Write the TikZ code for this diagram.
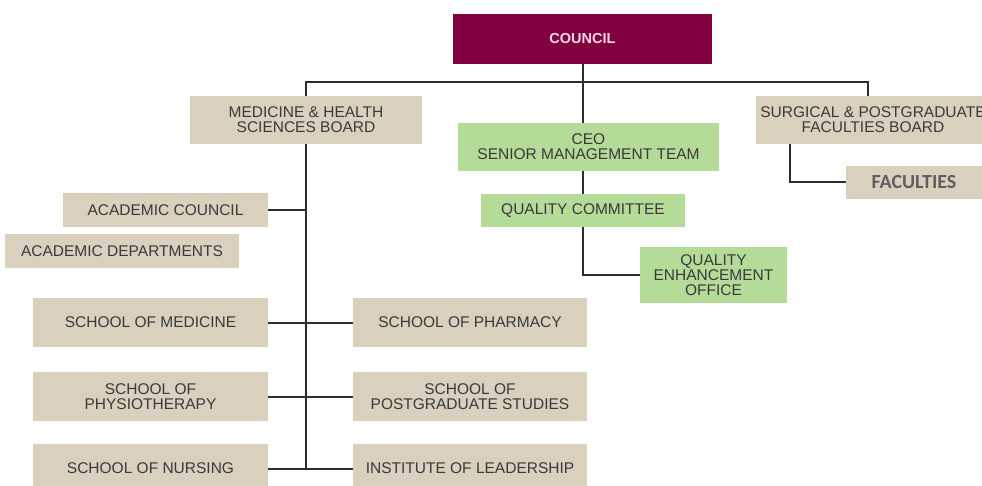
\documentclass[tikz,border=0pt]{standalone}
\usepackage{fontspec}
\setmainfont{Liberation Sans}
\newfontfamily\calib{Carlito}
\definecolor{beigec}{RGB}{217,209,189}
\definecolor{greenc}{RGB}{181,219,153}
\definecolor{maroonc}{RGB}{128,0,64}
\definecolor{txtc}{RGB}{58,58,58}
\definecolor{linec}{RGB}{45,45,45}
\definecolor{pinkc}{RGB}{245,215,228}
\definecolor{factxt}{RGB}{95,95,95}
\begin{document}
\begin{tikzpicture}[x=1pt,y=-1pt]
\tikzset{
  box/.style={inner sep=0pt, align=center, text=txtc, font=\fontsize{15.5}{15}\selectfont},
  bbox/.style={box, fill=beigec},
  gbox/.style={box, fill=greenc},
  conn/.style={draw=linec, line width=2pt}
}
\useasboundingbox (0,0) rectangle (982,486);
\clip (0,0) rectangle (982,486);
\fill[white] (0,0) rectangle (982,486);

% nodes
\node[fill=maroonc, text=pinkc, font=\bfseries\fontsize{14.5}{16}\selectfont, minimum width=259pt, minimum height=50pt, inner sep=0pt] (council) at (582.5,39) {COUNCIL};
\node[bbox, minimum width=232pt, minimum height=48pt] (med) at (306,120) {MEDICINE \& HEALTH\\SCIENCES BOARD};
\node[gbox, minimum width=261pt, minimum height=48pt] (ceo) at (588.5,147) {CEO\\SENIOR MANAGEMENT TEAM};
\node[bbox, minimum width=234pt, minimum height=48pt] (surg) at (873,120) {SURGICAL \& POSTGRADUATE\\FACULTIES BOARD};
\node[bbox, minimum width=136pt, minimum height=33pt, text=factxt, font=\calib\bfseries\fontsize{20}{22}\selectfont] (fac) at (914,182.5) {FACULTIES};
\node[gbox, minimum width=204pt, minimum height=33pt] (qc) at (583,210.5) {QUALITY COMMITTEE};
\node[gbox, minimum width=147pt, minimum height=56pt] (qeo) at (713.5,275) {QUALITY\\ENHANCEMENT\\OFFICE};
\node[bbox, minimum width=205pt, minimum height=34pt] (acad) at (165.5,210) {ACADEMIC COUNCIL};
\node[bbox, minimum width=234pt, minimum height=34pt] (dept) at (122,251) {ACADEMIC DEPARTMENTS};
\node[bbox, minimum width=235pt, minimum height=49pt] (smed) at (150.5,322.5) {SCHOOL OF MEDICINE};
\node[bbox, minimum width=235pt, minimum height=49pt] (phys) at (150.5,396.5) {SCHOOL OF\\PHYSIOTHERAPY};
\node[bbox, minimum width=235pt, minimum height=49pt] (nurs) at (150.5,468.5) {SCHOOL OF NURSING};
\node[bbox, minimum width=234pt, minimum height=49pt] (pharm) at (470,322.5) {SCHOOL OF PHARMACY};
\node[bbox, minimum width=234pt, minimum height=49pt] (pg) at (470,396.5) {SCHOOL OF\\POSTGRADUATE STUDIES};
\node[bbox, minimum width=234pt, minimum height=49pt] (inst) at (470,468.5) {INSTITUTE OF LEADERSHIP};

% connectors
\coordinate (bus) at (0,82);
\draw[conn] (med.north) -- (med.north |- bus) -- ([xshift=-5pt]surg.north |- bus) -- ([xshift=-5pt]surg.north);
\draw[conn] (council.south) -- (council.south |- ceo.north);
\draw[conn] (ceo.south -| qc.north) -- (qc.north);
\draw[conn] (qc.south) |- (qeo.west);
\draw[conn] ([xshift=-83pt]surg.south) |- (fac.west);
\draw[conn] (med.south) -- (med.south |- nurs.east);
\draw[conn] (acad.east) -- (acad.east -| med.south);
\draw[conn] (smed.east) -- (pharm.west);
\draw[conn] (phys.east) -- (pg.west);
\draw[conn] (nurs.east) -- (inst.west);
\end{tikzpicture}
\end{document}
